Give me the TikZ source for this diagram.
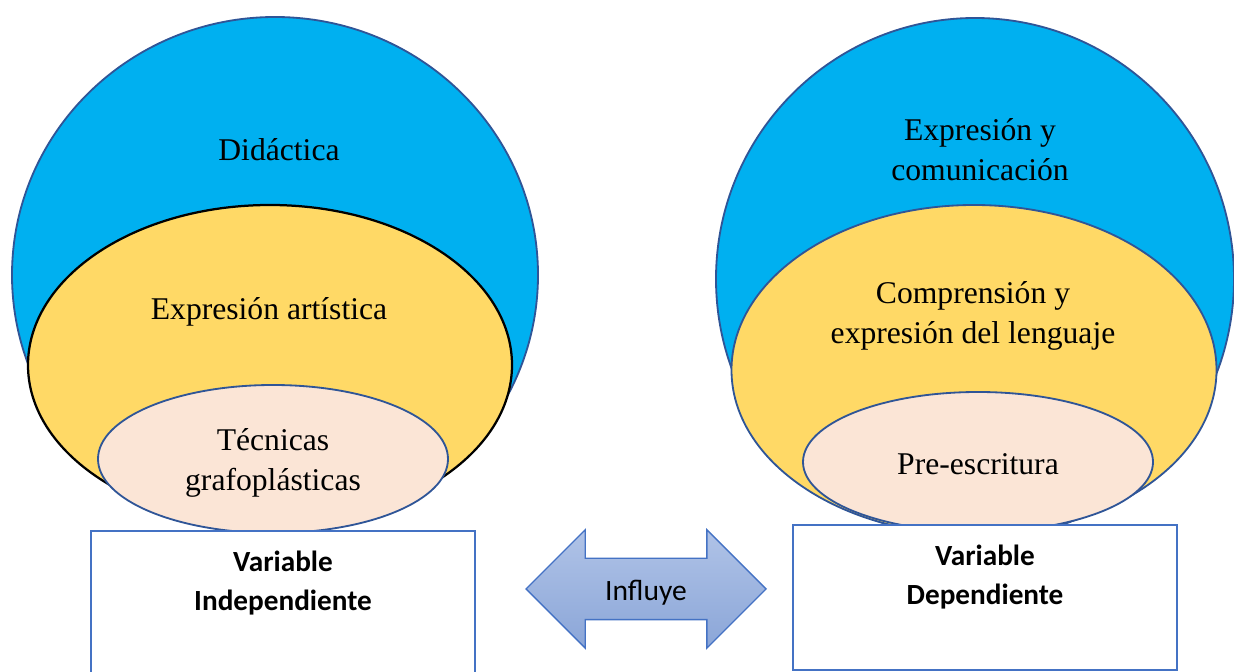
\documentclass[tikz,border=0pt]{standalone}
\usepackage{fontspec}
\setmainfont{Liberation Serif}
\newfontfamily\calibrifont{Carlito}
\usepackage{tikz}
\usetikzlibrary{shapes.geometric,shapes.arrows,positioning,calc}
\definecolor{skyblue}{HTML}{00B0F0}
\definecolor{sunyellow}{HTML}{FFD966}
\definecolor{peach}{HTML}{FBE5D6}
\definecolor{rimblue}{HTML}{2F5597}
\definecolor{boxblue}{HTML}{4472C4}
\definecolor{arrowtop}{HTML}{B0C3E7}
\definecolor{arrowbot}{HTML}{8BA6D8}

\begin{document}
\begin{tikzpicture}[
        zone/.style={ellipse, draw=rimblue, line width=1.3pt, fill=#1, inner sep=0pt},
        zonetext/.style={align=center, font=\fontsize{22.5}{28.5}\selectfont},
        varbox/.style={rectangle, draw=boxblue, line width=1.4pt, fill=white, minimum width=9.6cm},
        vartext/.style={align=center, font=\calibrifont\bfseries\fontsize{20.8}{27.7}\selectfont},
        twoway/.style={double arrow, draw=boxblue, line width=1pt,
            top color=arrowtop, bottom color=arrowbot,
            double arrow head extend=0.7125cm, minimum height=6cm,
            inner ysep=0pt, text height=1.05cm, text depth=0.45cm,
            font=\calibrifont\fontsize{21}{25}\selectfont}
    ]
        \path[use as bounding box, clip] (0,0) rectangle (30.85,16.8);

        % left set: independent variable
        \node[zone=skyblue, minimum width=13.15cm, minimum height=12.9cm] (lblue) at (6.875,9.925) {};
        \node[zone=sunyellow, draw=black, line width=1.6pt, minimum width=12.1cm, minimum height=8cm] (lyellow) at (6.75,7.675) {};
        \node[zone=peach, minimum width=8.75cm, minimum height=3.7cm] (lpeach) at (6.825,5.325) {};
        \node[zonetext] (didactica) at (6.975,13.05) {Didáctica};
        \node[zonetext] (artistica) at (6.725,9.0) {Expresión artística};
        \node[zonetext] (tecnicas) at (6.825,5.225) {Técnicas\\grafoplásticas};
        \node[varbox, minimum height=3.975cm] (lbox) at (7.075,1.5375) {};
        \node[vartext] (ltext) at ([yshift=-1.325cm]lbox.north) {Variable\\Independiente};

        % right set: dependent variable
        \node[zone=skyblue, minimum width=12.95cm, minimum height=13.05cm] (rblue) at (24.375,9.825) {};
        \node[zone=sunyellow, minimum width=12.125cm, minimum height=8.25cm] (ryellow) at (24.35,7.55) {};
        \node[zone=peach, minimum width=8.75cm, minimum height=3.5cm] (rpeach) at (24.45,5.25) {};
        \node[zonetext] (comunicacion) at (24.5,13.05) {Expresión y\\comunicación};
        \node[zonetext] (lenguaje) at (24.325,8.9) {Comprensión y\\expresión del lenguaje};
        \node[zonetext] (preescritura) at (24.45,5.2) {Pre-escritura};
        \node[varbox, minimum height=3.625cm] (rbox) at (24.625,1.8625) {};
        \node[vartext] (rtext) at ([yshift=-1.325cm]rbox.north) {Variable\\Dependiente};

        % link between both
        \node[twoway] (influye) at (16.15,2.075) {Influye};
    \end{tikzpicture}
\end{document}
